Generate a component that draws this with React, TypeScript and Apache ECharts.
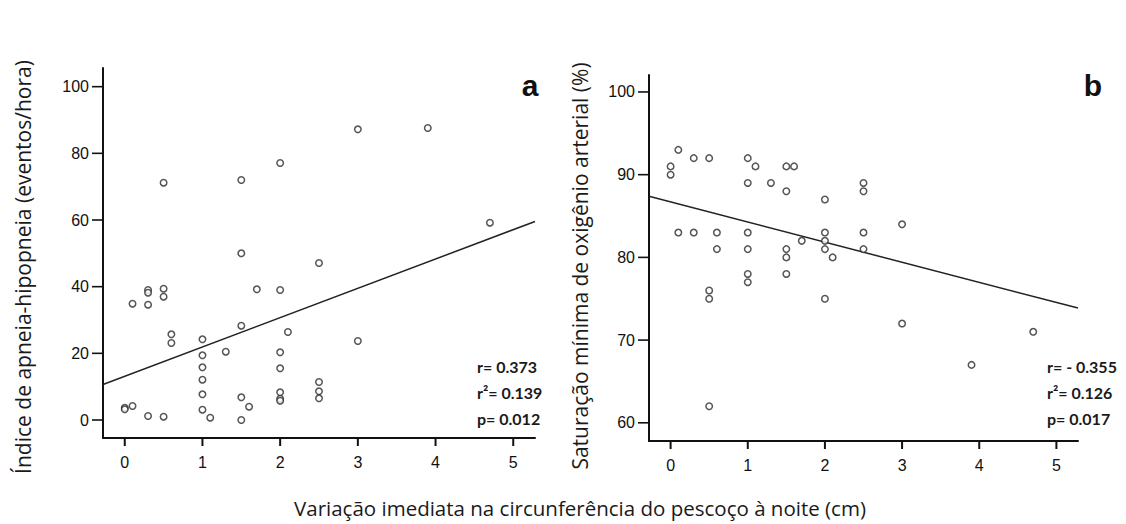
import React, { useEffect, useRef } from "react";
import * as echarts from "echarts";

// Panel a: apnea-hypopnea index vs neck circumference change
const aX = [3.0, 3.9, 2.0, 0.5, 1.5, 4.7, 1.5, 2.5, 0.3, 0.3, 0.5, 0.5, 0.1, 0.3, 1.7, 2.0, 1.5, 2.1, 0.6, 0.6, 1.0, 1.3, 1.0, 1.0, 1.0, 1.0, 1.0, 1.1, 1.5, 1.6, 1.5, 2.0, 2.0, 2.0, 2.0, 2.0, 2.5, 2.5, 2.5, 3.0, 0.0, 0.0, 0.1, 0.3, 0.5];
const aY = [87.2, 87.6, 77.1, 71.2, 72.0, 59.2, 50.0, 47.1, 39.0, 38.2, 39.4, 37.0, 34.9, 34.6, 39.2, 39.0, 28.3, 26.4, 25.7, 23.1, 24.2, 20.5, 19.4, 15.8, 12.1, 7.7, 3.1, 0.7, 6.8, 4.0, 0.0, 20.3, 15.5, 8.3, 6.4, 5.8, 11.4, 8.6, 6.5, 23.7, 3.7, 3.2, 4.2, 1.2, 1.0];
const aFit = { intercept: 13.1, slope: 8.8 };
const aStats = ["r= 0.373", "r\u00b2= 0.139", "p= 0.012"];

// Panel b: minimum arterial oxygen saturation
const bX = [0, 0, 0.1, 0.3, 0.5, 1.0, 1.1, 1.5, 1.6, 1.0, 1.3, 1.5, 2.0, 2.5, 2.5, 0.1, 0.3, 0.6, 0.6, 1.0, 1.0, 1.0, 1.0, 0.5, 0.5, 0.5, 1.5, 1.5, 1.5, 1.7, 2.0, 2.0, 2.0, 2.1, 2.0, 2.5, 2.5, 3.0, 3.0, 3.9, 4.7];
const bY = [91, 90, 93, 92, 92, 92, 91, 91, 91, 89, 89, 88, 87, 89, 88, 83, 83, 83, 81, 83, 81, 78, 77, 76, 75, 62, 81, 80, 78, 82, 83, 82, 81, 80, 75, 83, 81, 84, 72, 67, 71];
const bFit = { intercept: 86.7, slope: -2.43 };
const bStats = ["r= - 0.355", "r\u00b2= 0.126", "p= 0.017"];

const xTicks = [0, 1, 2, 3, 4, 5];
const aYTicks = [0, 20, 40, 60, 80, 100];
const bYTicks = [60, 70, 80, 90, 100];

const aTitle = "Índice de apneia-hipopneia (eventos/hora)";
const bTitle = "Saturação mínima de oxigênio arterial (%)";
const xTitle = "Variação imediata na circunferência do pescoço à noite (cm)";

const X_MIN = -0.28;
const X_MAX = 5.28;
const A_Y_MIN = -5.4;
const A_Y_MAX = 105.6;
const B_Y_MIN = 57.8;
const B_Y_MAX = 102.05;

export default function App() {
  const ref = useRef<HTMLDivElement>(null);
  useEffect(() => {
    if (!ref.current) return;
    const chart = echarts.init(ref.current, undefined, { renderer: "svg" });
    const axisLine = { show: true, onZero: false, lineStyle: { color: "#111", width: 2 } };
    const tickFont = { color: "#111", fontSize: 16, fontFamily: "Liberation Sans, Arial, sans-serif" };
    const mkX = (gi: number) => ({
      type: "value",
      gridIndex: gi,
      min: X_MIN,
      max: X_MAX,
      axisLine,
      splitLine: { show: false },
      axisTick: { show: false },
      axisLabel: { ...tickFont, margin: 16, customValues: xTicks },
    });
    const mkY = (gi: number, min: number, max: number, ticks: number[]) => ({
      type: "value",
      gridIndex: gi,
      min,
      max,
      axisLine,
      splitLine: { show: false },
      axisTick: { show: false },
      axisLabel: { ...tickFont, margin: 14, customValues: ticks },
    });
    const pts = (xs: number[], ys: number[]) => xs.map((x, i) => [x, ys[i]]);
    const fit = (f: { intercept: number; slope: number }) => [
      [X_MIN, f.intercept + f.slope * X_MIN],
      [X_MAX, f.intercept + f.slope * X_MAX],
    ];
    const scatterStyle = {
      type: "scatter",
      symbol: "circle",
      symbolSize: 6.5,
      itemStyle: { color: "#fff", borderColor: "#2a2a2a", borderWidth: 1.5 },
      z: 3,
    };
    const lineStyle = {
      type: "line",
      showSymbol: false,
      symbol: "none",
      lineStyle: { color: "#222", width: 1.5 },
      z: 2,
    };
    // tick marks drawn through the axes' own scales
    const xTickSeries = (gi: number, yMin: number) => ({
      type: "custom",
      xAxisIndex: gi,
      yAxisIndex: gi,
      clip: false,
      silent: true,
      data: xTicks.map((v) => [v, yMin]),
      renderItem: (_p: any, api: any) => {
        const c = api.coord([api.value(0), api.value(1)]);
        return {
          type: "line",
          shape: { x1: c[0], y1: c[1], x2: c[0], y2: c[1] + 8 },
          style: { stroke: "#111", lineWidth: 2 },
        };
      },
      z: 4,
    });
    const yTickSeries = (gi: number, ticks: number[]) => ({
      type: "custom",
      xAxisIndex: gi,
      yAxisIndex: gi,
      clip: false,
      silent: true,
      data: ticks.map((v) => [X_MIN, v]),
      renderItem: (_p: any, api: any) => {
        const c = api.coord([api.value(0), api.value(1)]);
        return {
          type: "line",
          shape: { x1: c[0] - 11, y1: c[1], x2: c[0], y2: c[1] },
          style: { stroke: "#111", lineWidth: 1.6 },
        };
      },
      z: 4,
    });
    const statFont = 'bold 16px Lato, "Open Sans", sans-serif';
    const statTexts = (x: number, lines: string[]) =>
      lines.map((t, i) => ({
        type: "text",
        left: x,
        top: 358 + i * 26,
        style: { text: t, font: statFont, fill: "#1a1a1a" },
      }));
    const titleFont = '21px "Open Sans", sans-serif';
    chart.setOption({
      animation: false,
      grid: [
        { left: 103, top: 68, width: 432, height: 370 },
        { left: 649, top: 75, width: 429, height: 366 },
      ],
      xAxis: [mkX(0), mkX(1)],
      yAxis: [mkY(0, A_Y_MIN, A_Y_MAX, aYTicks), mkY(1, B_Y_MIN, B_Y_MAX, bYTicks)],
      series: [
        { ...lineStyle, xAxisIndex: 0, yAxisIndex: 0, data: fit(aFit) },
        { ...scatterStyle, xAxisIndex: 0, yAxisIndex: 0, data: pts(aX, aY) },
        { ...lineStyle, xAxisIndex: 1, yAxisIndex: 1, data: fit(bFit) },
        { ...scatterStyle, xAxisIndex: 1, yAxisIndex: 1, data: pts(bX, bY) },
        xTickSeries(0, A_Y_MIN),
        xTickSeries(1, B_Y_MIN),
        yTickSeries(0, aYTicks),
        yTickSeries(1, bYTicks),
      ],
      graphic: [
        {
          type: "text",
          x: 23,
          y: 267,
          rotation: Math.PI / 2,
          style: { text: aTitle, font: titleFont, fill: "#1a1a1a", textAlign: "center", textVerticalAlign: "middle" },
        },
        {
          type: "text",
          x: 580,
          y: 266,
          rotation: Math.PI / 2,
          style: { text: bTitle, font: titleFont, fill: "#1a1a1a", textAlign: "center", textVerticalAlign: "middle" },
        },
        {
          type: "text",
          x: 580,
          y: 508,
          style: { text: xTitle, font: '20.5px "Open Sans", sans-serif', fill: "#1a1a1a", textAlign: "center", textVerticalAlign: "middle" },
        },
        {
          type: "text",
          x: 530,
          y: 85,
          style: { text: "a", font: 'bold 30px "Liberation Sans", Arial, sans-serif', fill: "#111", textAlign: "center", textVerticalAlign: "middle" },
        },
        {
          type: "text",
          x: 1093,
          y: 85,
          style: { text: "b", font: 'bold 30px "Liberation Sans", Arial, sans-serif', fill: "#111", textAlign: "center", textVerticalAlign: "middle" },
        },
        ...statTexts(477, aStats),
        ...statTexts(1047, bStats),
      ],
    });
    return () => chart.dispose();
  }, []);
  return (
    <div
      ref={ref}
      style={{ position: "absolute", left: 0, top: 0, width: 1126, height: 524, background: "#fff" }}
    />
  );
}
